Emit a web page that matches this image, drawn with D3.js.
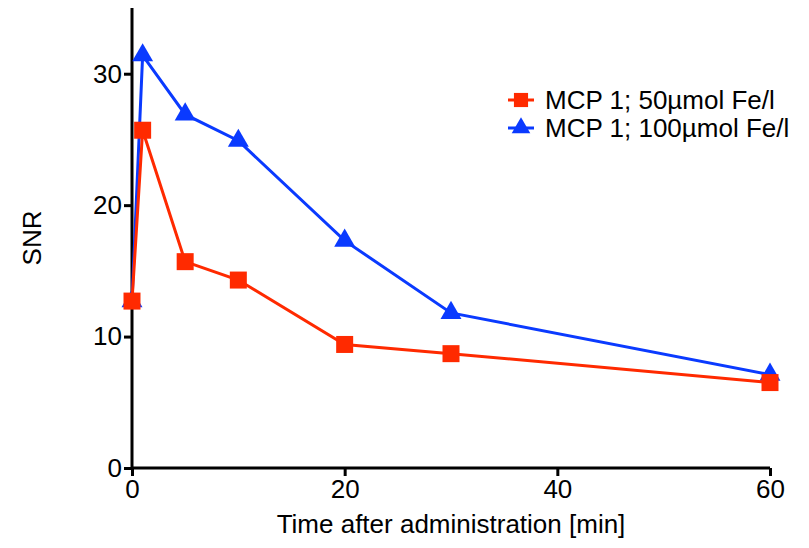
<!DOCTYPE html>
<html>
<head>
<meta charset="utf-8">
<script src="https://cdn.jsdelivr.net/npm/d3@7"></script>
<style>
  body { margin: 0; background: #fff; }
  text { font-family: "Liberation Sans", Arial, sans-serif; fill: #000; }
</style>
</head>
<body>
<div id="chart"></div>
<script>
const times = [0, 1, 5, 10, 20, 30, 60];
const snr50 = [12.7, 25.7, 15.7, 14.3, 9.4, 8.7, 6.5];
const snr100 = [12.7, 31.4, 26.9, 24.9, 17.3, 11.8, 7.1];
const seriesNames = ['MCP 1; 50µmol Fe/l', 'MCP 1; 100µmol Fe/l'];
const xTicks = [0, 20, 40, 60];
const yTicks = [0, 10, 20, 30];

const width = 809, height = 548;
const margin = {top: 8, right: 39, bottom: 80, left: 132};
const fontSize = '26px';

const svg = d3.select('#chart').append('svg')
  .attr('width', width).attr('height', height);

const x = d3.scaleLinear().domain([0, 60]).range([margin.left, width - margin.right]);
const y = d3.scaleLinear().domain([0, 35]).range([height - margin.bottom, margin.top]);

// axes
const xAxis = svg.append('g')
  .attr('transform', `translate(0,${y(0)})`)
  .call(d3.axisBottom(x).tickValues(xTicks).tickSize(8).tickPadding(4));
const yAxis = svg.append('g')
  .attr('transform', `translate(${x(0)},0)`)
  .call(d3.axisLeft(y).tickValues(yTicks).tickSize(8).tickPadding(2));
[xAxis, yAxis].forEach(a => {
  a.attr('font-size', null).attr('font-family', null);
  a.select('.domain').attr('stroke', '#000').attr('stroke-width', 3);
  a.selectAll('.tick line').attr('stroke', '#000').attr('stroke-width', 3);
  a.selectAll('.tick text').style('font-size', fontSize);
});
xAxis.select('.domain').attr('d', `M${x(0)},0H${x(60)}`);
yAxis.select('.domain').attr('d', `M0,${y(35)}V${y(0)}`);

svg.append('text')
  .attr('x', (x(0) + x(60)) / 2).attr('y', 533)
  .attr('text-anchor', 'middle').style('font-size', fontSize)
  .text('Time after administration [min]');
svg.append('text')
  .attr('transform', `translate(41,${y(17.5)}) rotate(-90)`)
  .attr('text-anchor', 'middle').style('font-size', fontSize)
  .text('SNR');

const series = [
  {name: seriesNames[0], values: snr50, color: '#ff2a00', shape: d3.symbolSquare, size: 289},
  {name: seriesNames[1], values: snr100, color: '#0a3aff', shape: d3.symbolTriangle, size: 190}
];

const line = d3.line().x(d => x(d[0])).y(d => y(d[1]));

// draw blue first so red squares sit on top as in the reference
series.slice().reverse().forEach(s => {
  const pts = times.map((t, i) => [t, s.values[i]]);
  svg.append('path').datum(pts)
    .attr('fill', 'none').attr('stroke', s.color).attr('stroke-width', 3)
    .attr('d', line);
  svg.selectAll(null).data(pts).enter().append('path')
    .attr('transform', d => `translate(${x(d[0])},${y(d[1])})`)
    .attr('d', d3.symbol().type(s.shape).size(s.size))
    .attr('fill', s.color);
});

// legend
const legend = svg.append('g').attr('transform', 'translate(508,100)');
series.forEach((s, i) => {
  const g = legend.append('g').attr('transform', `translate(0,${i * 28})`);
  g.append('line').attr('x1', 0).attr('x2', 26).attr('y1', 0).attr('y2', 0)
    .attr('stroke', s.color).attr('stroke-width', 3);
  g.append('path').attr('transform', 'translate(13,0)')
    .attr('d', d3.symbol().type(s.shape).size(i === 0 ? 200 : 150))
    .attr('fill', s.color);
  g.append('text').attr('x', 37).attr('y', 0).attr('dy', '0.35em')
    .style('font-size', fontSize).text(s.name);
});
</script>
</body>
</html>
